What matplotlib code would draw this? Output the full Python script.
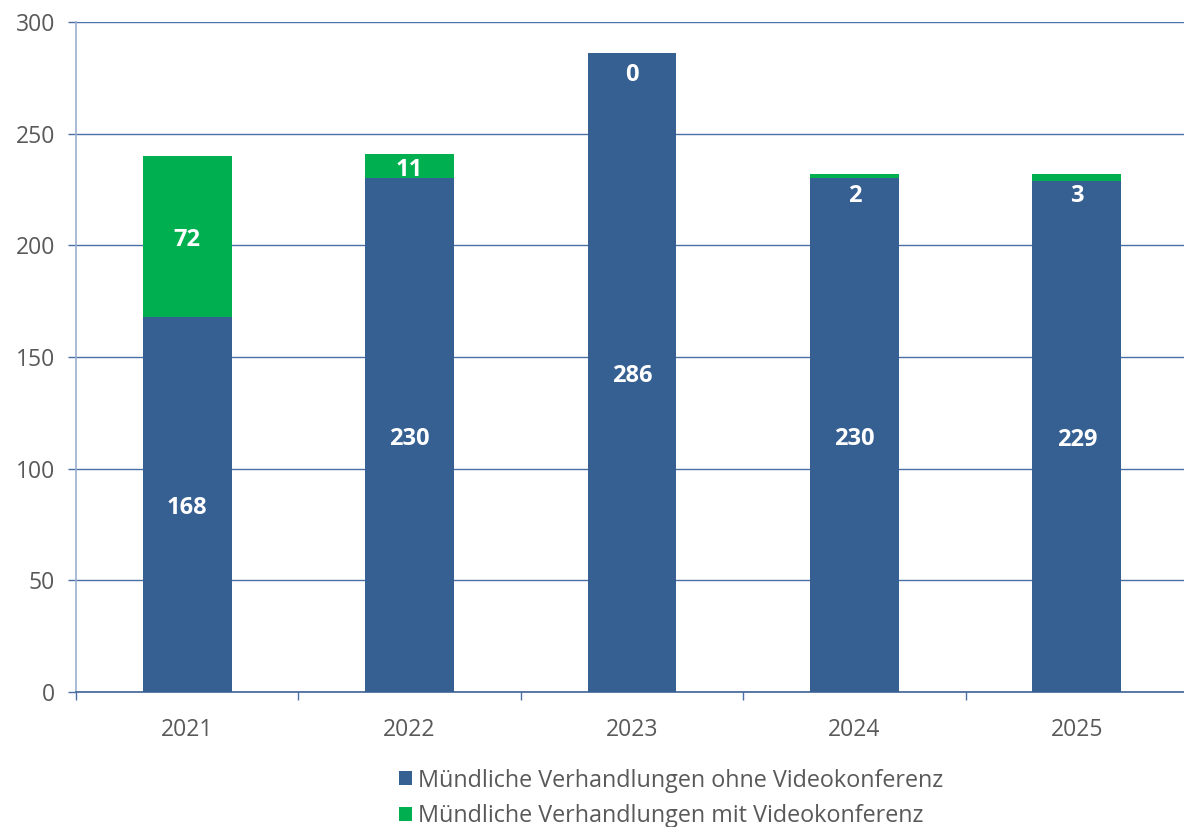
import numpy as np
import matplotlib
matplotlib.use("Agg")
from matplotlib import pyplot as plt
from matplotlib.patches import Patch

plt.rcParams["font.family"] = ["Open Sans", "DejaVu Sans"]

years = ["2021", "2022", "2023", "2024", "2025"]
ohne_video = [168, 230, 286, 230, 229]
mit_video = [72, 11, 0, 2, 3]
series_names = ["Mündliche Verhandlungen ohne Videokonferenz",
                "Mündliche Verhandlungen mit Videokonferenz"]

BLUE = "#376092"
GREEN = "#00B050"
GRID = "#4A6FA5"
TEXT = "#595959"

fig = plt.figure(figsize=(11.84, 8.27), dpi=100)
ax = fig.add_axes([76 / 1184, 1 - 692 / 827, 1112 / 1184, 670 / 827])

x = np.arange(len(years))
width = 0.4
ax.bar(x, ohne_video, width, color=BLUE, zorder=3)
ax.bar(x, mit_video, width, bottom=ohne_video, color=GREEN, zorder=3)

label_kw = dict(textcoords="offset points", ha="center", color="white",
                fontsize=17, fontweight="bold", zorder=4)
for xi, lo, hi in zip(x, ohne_video, mit_video):
    ax.annotate(str(lo), (xi, lo / 2), xytext=(0, -2.5), va="center", **label_kw)
    if hi >= 10:
        ax.annotate(str(hi), (xi, lo + hi / 2), xytext=(0, -2.5), va="center",
                    **label_kw)
    else:
        # thin segment: label sits just inside the top of the stack
        ax.annotate(str(hi), (xi, lo + hi), xytext=(0, -7), va="top", **label_kw)

ax.set_xlim(-0.5, len(years) - 0.5)
ax.set_ylim(0, 300)
ax.set_yticks(np.arange(0, 301, 50))
ax.yaxis.grid(True, color=GRID, linewidth=1.0, zorder=0)
ax.set_axisbelow(True)

ax.set_xticks(x)
ax.set_xticklabels(years)
ax.set_xticks(np.arange(-0.5, len(years), 1.0), minor=True)
ax.tick_params(axis="x", which="major", length=0, pad=19, labelsize=16.5,
               labelcolor=TEXT)
ax.tick_params(axis="x", which="minor", length=6, color=GRID, width=1.0,
               direction="out")
ax.tick_params(axis="y", length=6, color=GRID, width=1.0, labelsize=16.5,
               labelcolor=TEXT, pad=9)

for side in ["top", "right"]:
    ax.spines[side].set_visible(False)
ax.spines["left"].set_color("#9AB0CF")
ax.spines["left"].set_linewidth(1.2)
ax.spines["bottom"].set_color("#3F6496")
ax.spines["bottom"].set_linewidth(1.2)

handles = [Patch(facecolor=BLUE), Patch(facecolor=GREEN)]
fig.legend(handles, series_names, loc="upper left",
           bbox_to_anchor=(387 / 1184, 1 - 757 / 827), frameon=False,
           fontsize=16.8, labelcolor=TEXT, handlelength=0.55, handleheight=0.55,
           handletextpad=0.3, labelspacing=0.48, borderpad=0)

fig.savefig("out.png", dpi=100)
